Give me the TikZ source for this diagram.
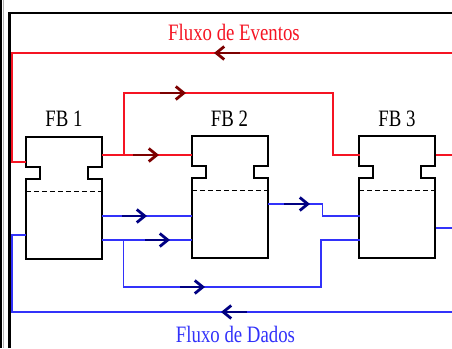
\documentclass[tikz,border=0pt]{standalone}
\usepackage{fontspec}
\setmainfont{Liberation Serif}
\usetikzlibrary{arrows.meta,calc}

\definecolor{evred}{RGB}{245,20,35}
\definecolor{evdark}{RGB}{125,0,0}
\definecolor{dtblue}{RGB}{50,50,250}
\definecolor{dtdark}{RGB}{0,0,130}

\tikzset{
  evline/.style={evred, line width=1.1pt},
  dtline/.style={dtblue, line width=1.1pt},
  flowmark/.style={line width=2.8pt, -{Straight Barb[length=8pt,width=13pt]}},
  evmark/.style={flowmark, evdark},
  dtmark/.style={flowmark, dtdark},
  fbbox/.style={minimum width=76pt, minimum height=122pt, inner sep=0pt, draw=none},
  fbout/.style={black, line width=2pt, line join=miter},
  sepline/.style={black, line width=0.8pt, dash pattern=on 5pt off 3pt},
  lbl/.style={font=\fontsize{23.5}{23.5}\selectfont, inner sep=0pt, anchor=base},
  framestroke/.style={black, line width=2.6pt},
  fblock/.pic={
    \draw[fbout] (0,0) -- (76,0) -- (76,30) -- (62,30) -- (62,42) -- (76,42)
      -- (76,122) -- (0,122) -- (0,42) -- (14,42) -- (14,30) -- (0,30) -- cycle;
    \draw[sepline] (0,55) -- (76,55);
  }
}

\begin{document}
\begin{tikzpicture}[x=1pt, y=-1pt]
  \useasboundingbox (0,0) rectangle (452,348);

  % outer frame
  \fill[black] (0,0) rectangle (2.4,348);
  \draw[gray!60, line width=0.8pt] (3.2,0) -- (3.2,348);
  \draw[framestroke] (9.3,348) -- (9.3,13) -- (452,13);

  % function blocks
  \node[fbbox] (fb1) at (64,198) {};
  \node[fbbox] (fb2) at (230,197) {};
  \node[fbbox] (fb3) at (397.5,197) {};
  \pic at (fb1.north west) {fblock};
  \pic at (fb2.north west) {fblock};
  \pic at (fb3.north west) {fblock};

  \node[lbl] (l1) at (64,126) {\scalebox{0.8}[1]{FB 1}};
  \node[lbl] (l2) at (229.5,126) {\scalebox{0.8}[1]{FB 2}};
  \node[lbl] (l3) at (397,126) {\scalebox{0.8}[1]{FB 3}};

  % ports
  \coordinate (fb1-ei)  at (26,162);
  \coordinate (fb1-eo)  at (102,155);
  \coordinate (fb1-di)  at (26,235);
  \coordinate (fb1-do1) at (102,216);
  \coordinate (fb1-do2) at (102,240);
  \coordinate (fb2-ei)  at (192,155);
  \coordinate (fb2-di1) at (192,216);
  \coordinate (fb2-di2) at (192,240);
  \coordinate (fb2-do)  at (268,204);
  \coordinate (fb3-ei)  at (359.5,155);
  \coordinate (fb3-eo)  at (435.5,155);
  \coordinate (fb3-di1) at (359.5,216);
  \coordinate (fb3-di2) at (359.5,240);
  \coordinate (fb3-do)  at (435.5,228);
  \coordinate (ev-ret)  at (452,53);
  \coordinate (ev-out)  at (452,155);
  \coordinate (dt-ret)  at (452,312);
  \coordinate (dt-out)  at (452,228);

  % event connections
  \draw[evline] (ev-ret) -- (12,53) -- (12,162) -- (fb1-ei);
  \draw[evline] (fb1-eo) -- (fb2-ei);
  \draw[evline] (124,155) |- (333,93) |- (fb3-ei);
  \draw[evline] (fb3-eo) -- (ev-out);

  % data connections
  \draw[dtline] (fb1-do1) -- (fb2-di1);
  \draw[dtline] (fb1-do2) -- (fb2-di2);
  \draw[dtline] (123.5,240) |- (321,287) |- (fb3-di2);
  \draw[dtline] (fb2-do) -| (322.5,216) -- (fb3-di1);
  \draw[dtline] (fb3-do) -- (dt-out);
  \draw[dtline] (dt-ret) -- (12,312) |- (fb1-di);

  % flow direction marks
  \draw[evmark] (240,53) -- (214,53);
  \draw[evmark] (133,155) -- (159,155);
  \draw[evmark] (160,93) -- (186,93);
  \draw[dtmark] (122,216) -- (147,216);
  \draw[dtmark] (145,240) -- (170,240);
  \draw[dtmark] (180,287) -- (205,287);
  \draw[dtmark] (284,204) -- (310,204);
  \draw[dtmark] (247,312) -- (221,312);

  % captions
  \node[lbl, evred] (tev) at (234,40) {\scalebox{0.8}[1]{Fluxo de Eventos}};
  \node[lbl, dtblue] (tdt) at (235.5,342.7) {\scalebox{0.8}[1]{Fluxo de Dados}};
\end{tikzpicture}
\end{document}
